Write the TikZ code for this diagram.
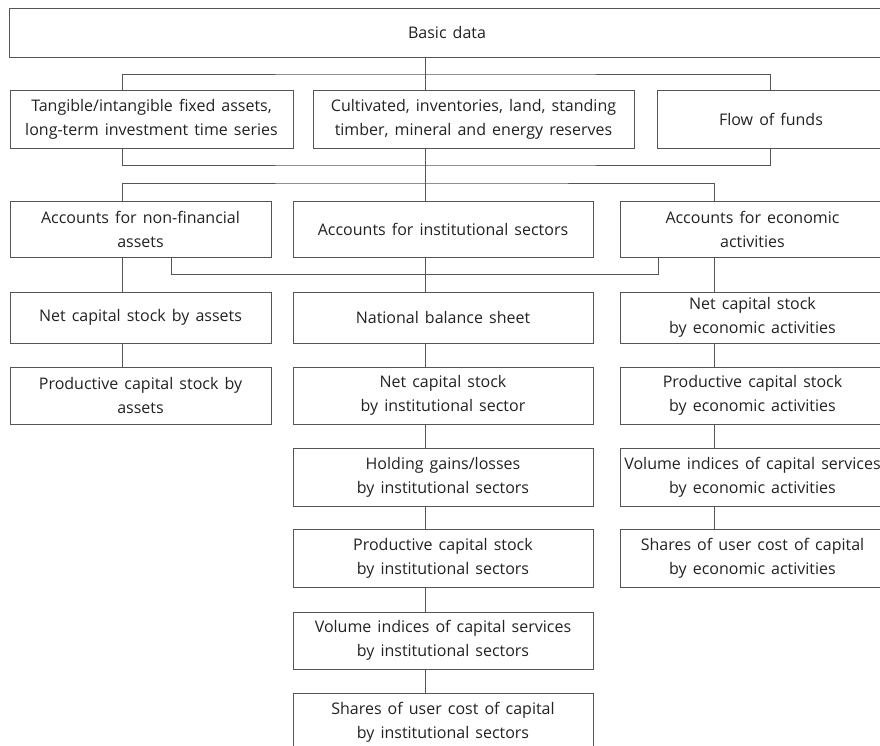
\documentclass[tikz,border=0pt]{standalone}
\usepackage{fontspec}
\setmainfont{Open Sans}
\definecolor{boxline}{HTML}{555555}
\definecolor{boxtext}{HTML}{222222}
\newcommand{\boxfont}{\fontsize{16}{24}\selectfont\spaceskip=0.38em plus 0.1em\relax}
\tikzset{
  box/.style={draw=boxline, line width=0.9pt, rectangle, align=center,
    inner sep=0pt, text=boxtext, font=\boxfont},
  link/.style={draw=boxline, line width=0.8pt}
}
\begin{document}
\begin{tikzpicture}[x=1pt,y=-1pt]
  \clip (0,0) rectangle (880,746);

  % Column positions of the connectors
  \coordinate (colA) at (122,0);
  \coordinate (colB) at (425,0);
  \coordinate (colC) at (770,0);
  \coordinate (colD) at (714,0);
  \coordinate (colE) at (658,0);

  % Top box
  \node[box,minimum width=876pt,minimum height=49pt] (basic) at (447,32.5) {Basic data};

  % Source data
  \node[box,minimum width=283pt,minimum height=58pt] (tangible) at (151.5,119)
    {Tangible/intangible fixed assets,\\long-term investment time series};
  \node[box,minimum width=321pt,minimum height=58pt] (cultivated) at (473.5,119)
    {Cultivated, inventories, land, standing\\timber, mineral and energy reserves};
  \node[box,minimum width=228pt,minimum height=58pt] (funds) at (771,119) {Flow of funds};

  % Accounts
  \node[box,minimum width=261pt,minimum height=56pt] (nonfin) at (140.5,229)
    {Accounts for non-financial\\assets};
  \node[box,minimum width=300pt,minimum height=56pt] (instsec) at (443,229)
    {Accounts for institutional sectors};
  \node[box,minimum width=265pt,minimum height=56pt] (econact) at (752.5,229)
    {Accounts for economic\\activities};

  % Left column
  \node[box,minimum width=261pt,minimum height=51pt] (netassets) at (140.5,317.5)
    {Net capital stock by assets};
  \node[box,minimum width=261pt,minimum height=57pt] (prodassets) at (140.5,395.5)
    {Productive capital stock by\\assets};

  % Middle column
  \node[box,minimum width=300pt,minimum height=51pt] (balance) at (443,317.5)
    {National balance sheet};
  \node[box,minimum width=300pt,minimum height=57pt] (netinst) at (443,395.5)
    {Net capital stock\\by institutional sector};
  \node[box,minimum width=300pt,minimum height=58pt] (holding) at (443,477)
    {Holding gains/losses\\by institutional sectors};
  \node[box,minimum width=300pt,minimum height=58pt] (prodinst) at (443,558)
    {Productive capital stock\\by institutional sectors};
  \node[box,minimum width=300pt,minimum height=57pt] (volinst) at (443,640.5)
    {Volume indices of capital services\\by institutional sectors};
  \node[box,minimum width=300pt,minimum height=58pt] (shareinst) at (443,722)
    {Shares of user cost of capital\\by institutional sectors};

  % Right column
  \node[box,minimum width=265pt,minimum height=51pt] (netecon) at (752.5,317.5)
    {Net capital stock\\by economic activities};
  \node[box,minimum width=265pt,minimum height=57pt] (prodecon) at (752.5,395.5)
    {Productive capital stock\\by economic activities};
  \node[box,minimum width=265pt,minimum height=58pt] (volecon) at (752.5,477)
    {Volume indices of capital services\\by economic activities};
  \node[box,minimum width=265pt,minimum height=58pt] (shareecon) at (752.5,558)
    {Shares of user cost of capital\\by economic activities};

  % Basic data to source data
  \coordinate (splitTop) at (425,74);
  \draw[link] (basic.south -| colB) -- (splitTop);
  \draw[link] (tangible.north -| colA) |- (splitTop) -| (funds.north -| colC);
  \draw[link] (splitTop) -- (cultivated.north -| colB);

  % Source data to accounts
  \coordinate (joinMid) at (425,165);
  \coordinate (splitMid) at (425,183);
  \draw[link] (tangible.south -| colA) |- (joinMid) -| (funds.south -| colC);
  \draw[link] (cultivated.south -| colB) -- (splitMid);
  \draw[link] (nonfin.north -| colA) |- (splitMid) -| (econact.north -| colD);
  \draw[link] (splitMid) -- (instsec.north -| colB);

  % Cross link between the outer accounts
  \coordinate (crossL) at (171,274);
  \draw[link] (nonfin.south -| crossL) -- (crossL) -| (econact.south -| colE);

  % Left column links
  \draw[link] (nonfin.south -| colA) -- (netassets.north -| colA);
  \draw[link] (netassets.south -| colA) -- (prodassets.north -| colA);

  % Middle column links
  \draw[link] (instsec.south -| colB) -- (balance.north -| colB);
  \draw[link] (balance.south -| colB) -- (netinst.north -| colB);
  \draw[link] (netinst.south -| colB) -- (holding.north -| colB);
  \draw[link] (holding.south -| colB) -- (prodinst.north -| colB);
  \draw[link] (prodinst.south -| colB) -- (volinst.north -| colB);
  \draw[link] (volinst.south -| colB) -- (shareinst.north -| colB);

  % Right column links
  \draw[link] (econact.south -| colD) -- (netecon.north -| colD);
  \draw[link] (netecon.south -| colD) -- (prodecon.north -| colD);
  \draw[link] (prodecon.south -| colD) -- (volecon.north -| colD);
  \draw[link] (volecon.south -| colD) -- (shareecon.north -| colD);
\end{tikzpicture}
\end{document}
